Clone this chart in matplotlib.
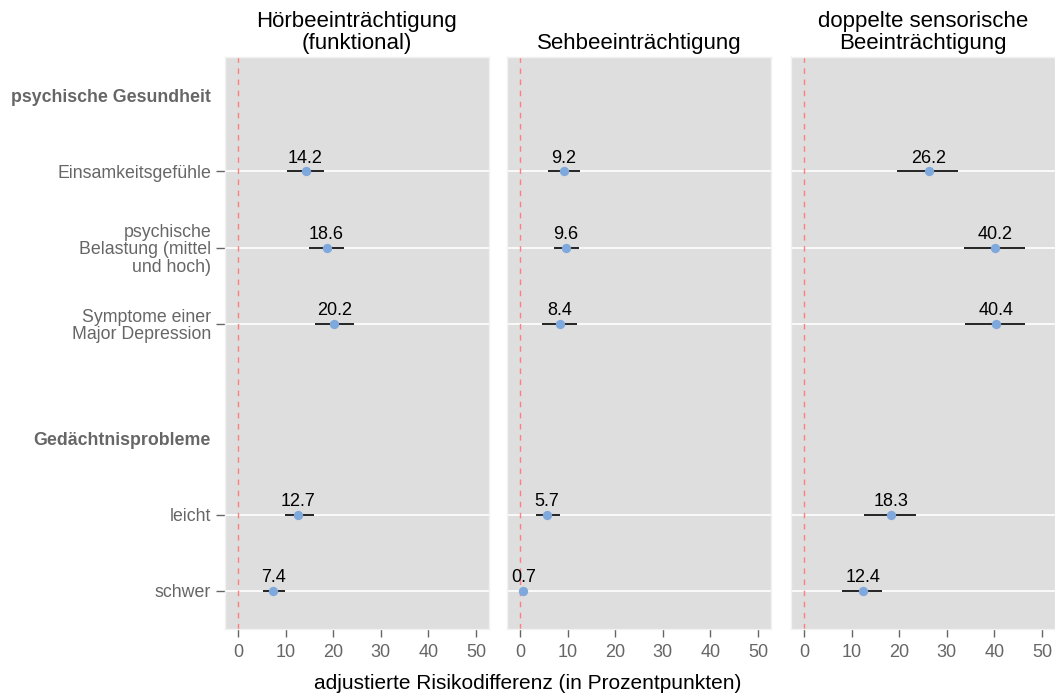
import numpy as np
import matplotlib.pyplot as plt
from matplotlib.transforms import offset_copy

plt.rcParams['font.family'] = ['Liberation Sans', 'DejaVu Sans']

# Daten
panels = ['Hörbeeinträchtigung\n(funktional)', 'Sehbeeinträchtigung',
          'doppelte sensorische\nBeeinträchtigung']
rows = ['Einsamkeitsgefühle', 'psychische\nBelastung (mittel\nund hoch)',
        'Symptome einer\nMajor Depression', 'leicht', 'schwer']
row_pos = [5.5, 4.5, 3.5, 1, 0]
headers = ['psychische Gesundheit', 'Gedächtnisprobleme']
header_pos = [6.5, 2]

est = [[14.2, 18.6, 20.2, 12.7, 7.4],
       [9.2, 9.6, 8.4, 5.7, 0.7],
       [26.2, 40.2, 40.4, 18.3, 12.4]]
lo = [[10.3, 15.0, 16.2, 9.9, 5.3],
      [5.9, 7.2, 4.6, 3.3, 0.1],
      [19.6, 33.5, 33.9, 12.6, 8.0]]
hi = [[18.1, 22.3, 24.3, 15.9, 9.9],
      [12.7, 12.5, 12.0, 8.4, 1.3],
      [32.4, 46.4, 46.4, 23.5, 16.4]]

fig = plt.figure(figsize=(10.55, 6.97), dpi=100)
lefts = [225, 507, 791]
width = 264
bottom = 1 - 629 / 697
height = (629 - 57) / 697

grau = '#666666'
for k in range(3):
    ax = fig.add_axes([lefts[k] / 1055, bottom, width / 1055, height])
    ax.set_facecolor('#dedede')
    for s in ax.spines.values():
        s.set_color('#f2f2f2')
        s.set_linewidth(1)
    ax.set_xlim(-2.7, 52.7)
    ax.set_ylim(-0.5, 7.0)
    for y in row_pos:
        ax.axhline(y, color='white', lw=1.2, zorder=1)
    ax.axvline(0, color='#ff7f7f', ls=(0, (4, 4)), lw=1, zorder=2)
    ax.hlines(row_pos, lo[k], hi[k], color='black', lw=1.2, zorder=3)
    ax.scatter(est[k], row_pos, s=45, color='#7fa9dc', zorder=4, linewidths=0)
    trans = offset_copy(ax.transData, fig=fig, x=0, y=3.5, units='points')
    for x, y in zip(est[k], row_pos):
        ax.text(x, y, f'{x:.1f}', transform=trans, ha='center', va='bottom',
                fontsize=13, color='black')
    ax.set_xticks([0, 10, 20, 30, 40, 50])
    ax.tick_params(axis='x', colors=grau, labelsize=13, length=6, width=1, pad=5)
    ax.set_title(panels[k], fontsize=16, pad=6, linespacing=1.05)
    if k == 0:
        yt = header_pos[:1] + row_pos[:3] + header_pos[1:] + row_pos[3:]
        yl = headers[:1] + rows[:3] + headers[1:] + rows[3:]
        ax.set_yticks(yt)
        ax.set_yticklabels(yl, linespacing=1.02)
        ax.tick_params(axis='y', colors=grau, labelsize=12.8, length=6.5, width=1, pad=3.5)
        for t, lab in zip(ax.yaxis.get_major_ticks(), yl):
            if lab in headers:
                t.tick1line.set_visible(False)
                t.label1.set_fontweight('bold')
    else:
        ax.set_yticks(row_pos)
        ax.tick_params(axis='y', length=0, labelleft=False)

fig.text(0.5, 0.006, 'adjustierte Risikodifferenz (in Prozentpunkten)',
         ha='center', va='bottom', fontsize=15)

fig.savefig('out.png', dpi=100)
